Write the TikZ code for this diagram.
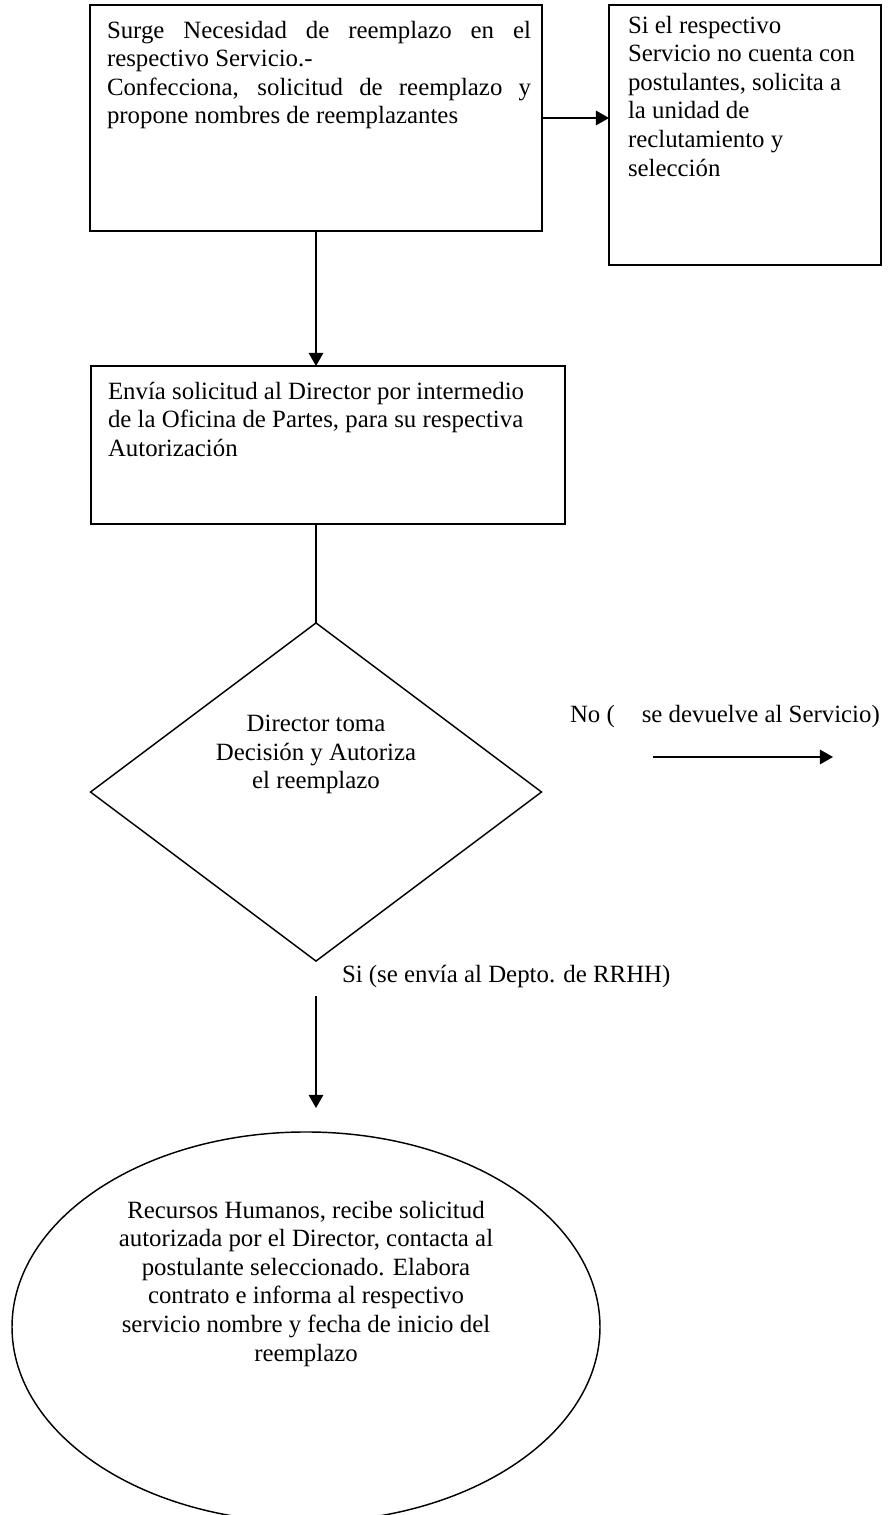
\documentclass[tikz,border=0pt]{standalone}
\usepackage{fontspec}
\setmainfont{Liberation Serif}
\usetikzlibrary{shapes.geometric,arrows.meta,fit}
\tikzset{
  boxshape/.style={draw, line width=0.7pt, inner sep=0pt, outer sep=0pt},
  txt/.style={inner sep=0pt, outer sep=0pt, font={\fontsize{12}{13.8}\selectfont\hyphenpenalty=10000\exhyphenpenalty=10000\tolerance=10000}},
  arr/.style={-{Triangle[length=6.3pt,width=7pt]}, line width=0.7pt},
  plain/.style={line width=0.7pt}
}
\begin{document}
\begin{tikzpicture}[x=0.483pt, y=-0.483pt]
\clip (0,0) rectangle (887,1515);
\fill[white] (0,0) rectangle (887,1515);
% boxes
\node[boxshape, fit={(90,5) (542,231)}] (b1) {};
\node[boxshape, fit={(609,5) (881,265)}] (b2) {};
\node[boxshape, fit={(91,366) (565,524)}] (b3) {};
\node[boxshape, diamond, minimum width=217.8pt, minimum height=163.3pt] (d) at (316,792) {};
\node[boxshape, ellipse, minimum width=284pt, minimum height=188.4pt] (e) at (306,1327) {};
% texts
\node[txt, anchor=north west, text width=204.8pt, align=justify] (t1) at (107,21)
 {Surge Necesidad de reemplazo en el respectivo Servicio.-\\Confecciona, solicitud de reemplazo y propone nombres de reemplazantes};
\node[txt, anchor=north west, align=left] (t2) at (628,16)
 {Si el respectivo\\Servicio no cuenta con\\postulantes, solicita a\\la unidad de\\reclutamiento y\\selección};
\node[txt, anchor=north west, align=left] (t3) at (108,382)
 {Envía solicitud al Director por intermedio\\de la Oficina de Partes, para su respectiva\\Autorización};
\node[txt, anchor=north, align=center] (t4) at (316,715)
 {Director toma\\Decisión y Autoriza\\el reemplazo};
\node[txt, anchor=base west] (lno) at (570,722) {No (\hspace{13pt}se devuelve al Servicio)};
\node[txt, anchor=base west] (lsi) at (342,982) {Si (se envía al Depto. de RRHH)};
\node[txt, anchor=north, align=center] (t5) at (306,1201)
 {Recursos Humanos, recibe solicitud\\autorizada por el Director, contacta al\\postulante seleccionado. Elabora\\contrato e informa al respectivo\\servicio nombre y fecha de inicio del\\reemplazo};
% connectors
\coordinate (n0) at (653,757);
\coordinate (n1) at (833,757);
\coordinate (s0) at (316,996);
\coordinate (s1) at (316,1108);
\draw[arr] (b1.east) -- (b1.east -| b2.west);
\draw[arr] (b1.south) -- (b1.south |- b3.north);
\draw[plain] (d.north |- b3.south) -- (d.north);
\draw[arr] (n0) -- (n1);
\draw[arr] (s0) -- (s1);
\end{tikzpicture}
\end{document}
